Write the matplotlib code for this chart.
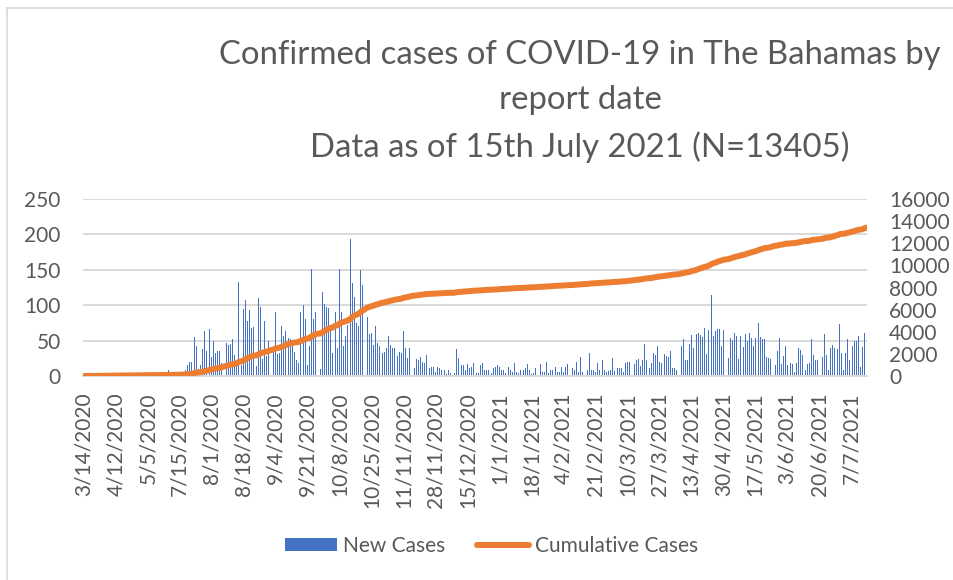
import numpy as np
import matplotlib
matplotlib.use("Agg")
import matplotlib.pyplot as plt
from matplotlib.patches import Patch
from matplotlib.lines import Line2D

plt.rcParams['font.family'] = ['Lato', 'DejaVu Sans']

title_lines = ["Confirmed cases of COVID-19 in The Bahamas by",
               "report date",
               "Data as of 15th July 2021 (N=13405)"]

tick_labels = ["3/14/2020", "4/12/2020", "5/5/2020", "7/15/2020", "8/1/2020",
               "8/18/2020", "9/4/2020", "9/21/2020", "10/8/2020", "10/25/2020",
               "11/11/2020", "28/11/2020", "15/12/2020", "1/1/2021", "18/1/2021",
               "4/2/2021", "21/2/2021", "10/3/2021", "27/3/2021", "13/4/2021",
               "30/4/2021", "17/5/2021", "3/6/2021", "20/6/2021", "7/7/2021"]
label_step = 17

# daily new cases per report date (417 report dates)
new_cases = [
    1, 0, 0, 2, 1, 1, 3, 2, 6, 1, 2, 4, 2, 3, 1, 2, 3,
    3, 2, 4, 1, 2, 1, 3, 2, 6, 3, 1, 2, 2, 1, 3, 2, 1,
    1, 1, 2, 1, 0, 1, 2, 1, 1, 2, 1, 8, 2, 3, 4, 5, 3,
    5, 6, 4, 9, 16, 20, 20, 25, 55, 42, 10, 16, 38, 64, 35, 24, 66,
    27, 49, 33, 35, 35, 18, 69, 47, 46, 44, 45, 52, 30, 20, 133, 62, 16,
    95, 107, 78, 93, 68, 69, 13, 14, 110, 97, 24, 78, 28, 50, 60, 61, 37,
    90, 31, 32, 70, 57, 63, 94, 54, 52, 43, 34, 23, 18, 90, 37, 100, 81,
    16, 43, 151, 81, 91, 47, 30, 10, 119, 101, 98, 96, 65, 32, 107, 91, 40,
    151, 90, 43, 56, 72, 28, 194, 132, 111, 75, 70, 150, 128, 84, 133, 83, 59,
    61, 44, 71, 46, 42, 74, 32, 34, 40, 56, 44, 40, 39, 28, 28, 34, 33,
    64, 39, 26, 39, 29, 56, 12, 24, 22, 27, 20, 18, 29, 10, 12, 13, 13,
    6, 13, 12, 8, 5, 8, 3, 8, 4, 2, 4, 38, 25, 12, 16, 16, 8,
    17, 11,
    13, 19, 18, 4, 4, 15, 18, 9, 9, 8, 8, 4, 11, 13, 16, 13, 9,
    9, 4, 17, 13, 8, 6, 18, 5, 4, 9, 10, 8, 11, 17, 8, 3, 4,
    12, 13, 6, 17, 6, 6, 20, 4, 9, 9, 24, 13, 5, 5, 13, 6, 13,
    17, 3, 1, 11, 9, 20, 5, 27, 6, 8, 9, 9, 33, 9, 9, 6, 18,
    9, 10, 22, 9, 6, 7, 8, 26, 7, 9, 12, 11, 12, 6, 19, 20, 20, 20,
    26, 17, 22, 24, 14, 23, 45, 23, 13, 12, 18, 33, 30, 42, 20, 18, 13, 31,
    28, 27, 35, 12, 12, 8, 26, 30, 42, 52, 23, 22, 45, 58, 40, 41, 60, 61,
    58, 55, 68, 31, 65, 74, 115, 56, 63, 66, 66, 42, 65, 30, 26, 25, 53,
    51, 61, 57, 24, 57, 33, 41, 60, 50, 61, 53, 42, 53, 46, 75, 55, 52,
    52, 27, 25, 24, 61, 60, 16, 36, 53, 17, 28, 42, 16, 17, 18, 17, 5,
    19, 39, 37, 30, 39, 9, 17, 18, 52, 30, 23, 23, 13, 16, 27, 60, 30,
    8, 39, 44, 39, 74, 38, 74, 32, 8, 32, 52, 23, 60, 43, 49, 50, 56, 13, 41, 61, 69,
]
cumulative = np.cumsum(new_cases)

left_ticks = [0, 50, 100, 150, 200, 250]
right_ticks = [0, 2000, 4000, 6000, 8000, 10000, 12000, 14000, 16000]

series_names = ["New Cases", "Cumulative Cases"]
BLUE = "#4472C4"
ORANGE = "#ED7D31"
TXT = "#595959"
GRID = "#D9D9D9"

W, H = 954, 580
fig = plt.figure(figsize=(W / 100, H / 100), dpi=100)
fig.patch.set_facecolor("white")

ax = fig.add_axes([83 / W, 1 - 376 / H, 784 / W, 177 / H])
x = np.arange(len(new_cases))
ax.bar(x, new_cases, width=0.45, color=BLUE, linewidth=0, zorder=2)
ax.set_xlim(-0.5, len(new_cases) - 0.5)
ax.set_ylim(left_ticks[0], left_ticks[-1])
ax.set_yticks(left_ticks)
ax.grid(axis="y", color=GRID, lw=1.4, zorder=0)
ax.set_axisbelow(True)
for s in ["top", "right", "left"]:
    ax.spines[s].set_visible(False)
ax.spines["bottom"].set_color(GRID)
ax.spines["bottom"].set_linewidth(1.4)
ax.set_xticks(x[::label_step][:len(tick_labels)])
ax.set_xticklabels(tick_labels, rotation=90, ha="center", va="top")
ax.tick_params(axis="x", length=0, pad=12, labelsize=15, labelcolor=TXT)
ax.tick_params(axis="y", length=0, pad=16, labelsize=15, labelcolor=TXT)

ax2 = ax.twinx()
ax2.plot(x, cumulative, color=ORANGE, lw=4.3, solid_capstyle="round", zorder=3)
ax2.set_ylim(right_ticks[0], right_ticks[-1])
ax2.set_yticks(right_ticks)
for s in ax2.spines.values():
    s.set_visible(False)
ax2.tick_params(axis="y", length=0, pad=16, labelsize=15, labelcolor=TXT)

title_y = [55, 100, 147]
for t, yy in zip(title_lines, title_y):
    fig.text(580 / W, 1 - yy / H, t, ha="center", va="center", fontsize=23.7, color=TXT)

handles = [Patch(facecolor=BLUE, edgecolor="none"),
           Line2D([], [], color=ORANGE, lw=4.3, solid_capstyle="round")]
fig.legend(handles, series_names, loc="center", bbox_to_anchor=(491.5 / W, 1 - 546 / H),
           ncol=2, frameon=False, fontsize=15, handlelength=2.5, handleheight=0.6,
           handletextpad=0.3, columnspacing=1.5, labelcolor=TXT)

fig.add_artist(Line2D([7 / W, 7 / W], [0, 1 - 8 / H], color=GRID, lw=1.2))
fig.add_artist(Line2D([7 / W, 1], [1 - 8 / H, 1 - 8 / H], color=GRID, lw=1.2))

fig.savefig("out.png", dpi=100)
